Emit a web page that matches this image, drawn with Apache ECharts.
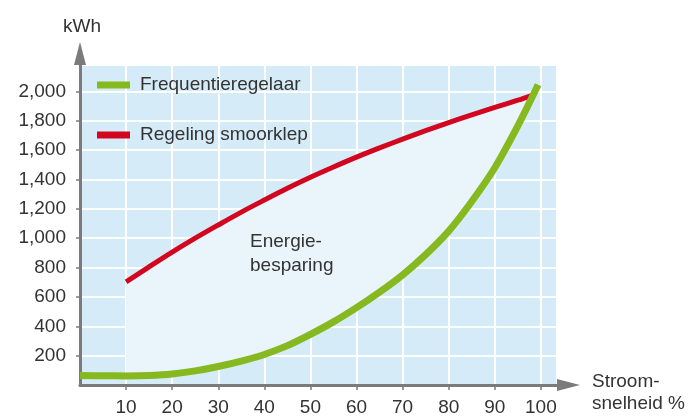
<!DOCTYPE html>
<html>
<head>
<meta charset="utf-8">
<script src="https://cdn.jsdelivr.net/npm/echarts@6/dist/echarts.min.js"></script>
<style>
html,body{margin:0;padding:0;background:#fff;}
#chart{width:696px;height:417px;}
</style>
</head>
<body>
<div id="chart"></div>
<script>
// ---- data ----
var greenName = 'Frequentieregelaar';
var redName = 'Regeling smoorklep';
var greenX = [0, 5, 10, 15, 20, 25, 30, 35, 40, 45, 50, 55, 60, 65, 70, 75, 80, 85, 90, 95, 99.4];
var greenY = [65, 63, 62, 65, 75, 96, 126, 163, 208, 268, 345, 430, 527, 633, 750, 888, 1048, 1250, 1480, 1765, 2045];
var redX = [10, 15, 20, 25, 30, 35, 40, 45, 50, 55, 60, 65, 70, 75, 80, 85, 90, 95, 98];
var redY = [703, 805, 905, 1000, 1090, 1178, 1260, 1340, 1415, 1485, 1552, 1615, 1675, 1733, 1788, 1841, 1891, 1940, 1972];
var yTicks = [200, 400, 600, 800, 1000, 1200, 1400, 1600, 1800, 2000];
var xTicks = [10, 20, 30, 40, 50, 60, 70, 80, 90, 100];
var noteText = 'Energie-\nbesparing';
var yName = 'kWh';
var xName = 'Stroom-\nsnelheid %';

function zip(xs, ys) { return xs.map(function (x, i) { return [x, ys[i]]; }); }
var greenData = zip(greenX, greenY);
var redData = zip(redX, redY);
var redEndX = redX[redX.length - 1];
var fillPts = redData.concat(greenData.filter(function (p) { return p[0] >= redX[0] && p[0] <= redEndX; }).reverse());

var FONT = '"Liberation Sans", Arial, Helvetica, sans-serif';
var TXT = '#333333';
var AXIS = '#7b7b7b';
var GREEN = '#86b91f';
var RED = '#d2061f';
var BG = '#d6ebf8';
var FILL = '#e9f4fb';

var chart = echarts.init(document.getElementById('chart'), null, {renderer: 'canvas'});
chart.setOption({
  animation: false,
  textStyle: {fontFamily: FONT},
  grid: {left: 80, top: 65, width: 477, height: 320, show: true, backgroundColor: BG, borderWidth: 0, containLabel: false, outerBoundsMode: 'none'},
  legend: {
    orient: 'vertical', left: 92, top: 70, itemWidth: 33, itemHeight: 7, itemGap: 30,
    icon: 'rect',
    data: [{name: greenName}, {name: redName}],
    textStyle: {fontFamily: FONT, fontSize: 19, color: TXT, lineHeight: 20, padding: [0, 0, 0, 5]}
  },
  xAxis: {
    type: 'value', min: 0, max: 103.5, interval: 10,
    axisLine: {show: true, onZero: false, lineStyle: {color: AXIS, width: 3}, symbol: ['none', 'triangle'], symbolSize: [12, 23], symbolOffset: [0, 11.5]},
    axisTick: {show: true, length: 5, lineStyle: {color: AXIS, width: 1.5}},
    axisLabel: {
      fontFamily: FONT, fontSize: 19, color: TXT, margin: 13, showMaxLabel: false, showMinLabel: false,
      formatter: function (v) { return xTicks.indexOf(v) >= 0 ? String(v) : ''; }
    },
    splitLine: {show: true, lineStyle: {color: '#ffffff', width: 2}}
  },
  yAxis: {
    type: 'value', min: 0, max: 2180, interval: 200,
    name: yName, nameLocation: 'end', nameGap: 29, nameMoveOverlap: false,
    nameTextStyle: {fontFamily: FONT, fontSize: 19, color: TXT, align: 'center', padding: [0, 0, 0, 4]},
    axisLine: {show: true, onZero: false, lineStyle: {color: AXIS, width: 3}, symbol: ['none', 'triangle'], symbolSize: [12, 23], symbolOffset: [0, 11.5]},
    axisTick: {show: true, length: 4, lineStyle: {color: AXIS, width: 1.5}},
    axisLabel: {
      fontFamily: FONT, fontSize: 19, color: TXT, margin: 14, showMaxLabel: false, showMinLabel: false,
      formatter: function (v) { return yTicks.indexOf(v) >= 0 ? v.toLocaleString('en-US') : ''; }
    },
    splitLine: {show: true, lineStyle: {color: '#ffffff', width: 2}}
  },
  graphic: [{
    type: 'text', left: 250, top: 230, z: 100,
    style: {text: noteText, font: '19px ' + FONT, fill: TXT, lineHeight: 24}
  }, {
    type: 'text', left: 592, top: 371, z: 100,
    style: {text: xName, font: '19px ' + FONT, fill: TXT, lineHeight: 22}
  }],
  series: [
    {
      type: 'custom', coordinateSystem: 'cartesian2d', z: 1, silent: true,
      data: [[redX[0], redY[0]]],
      renderItem: function (params, api) {
        var pts = fillPts.map(function (p) { return api.coord(p); });
        return {type: 'polygon', shape: {points: pts}, style: {fill: FILL}};
      }
    },
    {
      name: redName, type: 'line', data: redData, smooth: 0.3, showSymbol: false, symbol: 'none', z: 3,
      itemStyle: {color: RED}, lineStyle: {color: RED, width: 5, cap: 'butt'}
    },
    {
      name: greenName, type: 'line', data: greenData, smooth: 0.3, showSymbol: false, symbol: 'none', z: 4,
      itemStyle: {color: GREEN}, lineStyle: {color: GREEN, width: 7, cap: 'butt'}
    }
  ]
});
</script>
</body>
</html>
